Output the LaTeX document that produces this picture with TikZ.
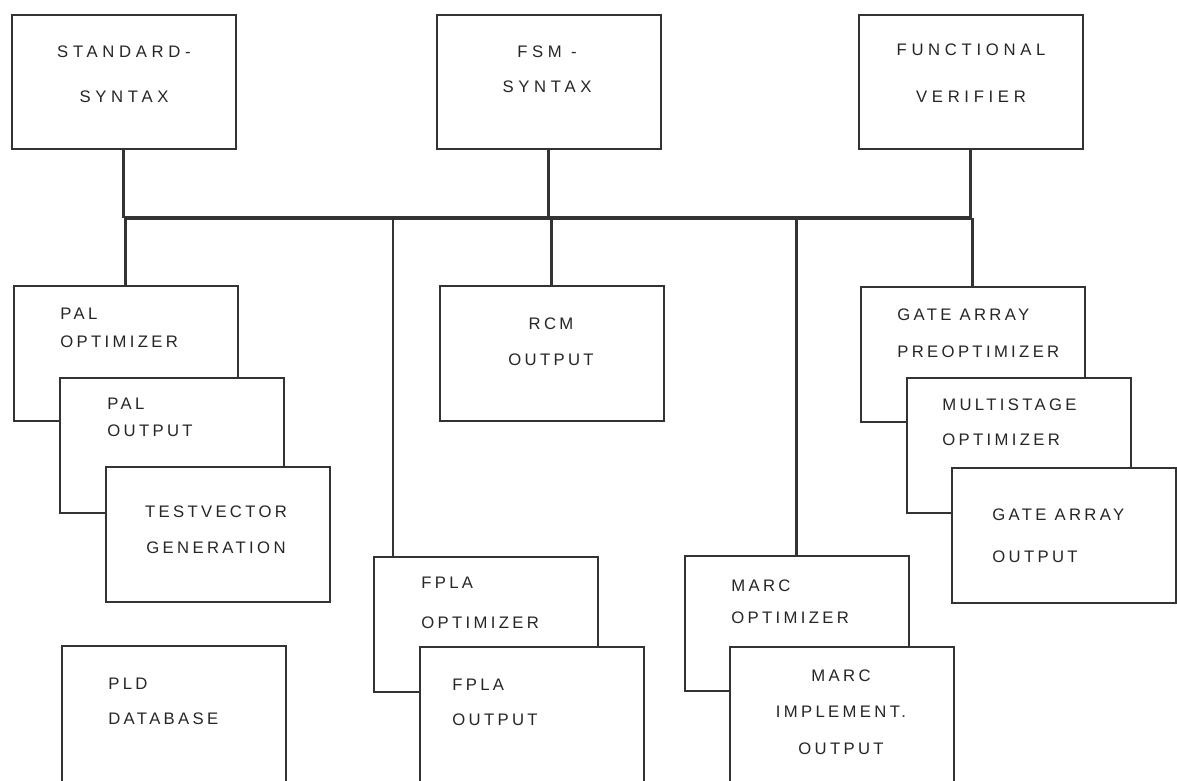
\documentclass[tikz,border=0pt]{standalone}
\usepackage{fontspec}
\setmainfont{Liberation Sans}
\newfontfamily\blkfont[LetterSpace=20]{Liberation Sans}
\newfontfamily\topfont[LetterSpace=28]{Liberation Sans}
\usetikzlibrary{calc}
\tikzset{
  unit/.style = {rectangle, draw=black!80, line width=0.9pt, fill=white, anchor=north west, inner sep=0pt, minimum width=4.48cm, minimum height=2.7cm},
  topunit/.style = {unit, minimum height=2.68cm},
  cutunit/.style = {unit, minimum height=2.9cm},
  lbl/.style = {black!85, inner sep=0pt, font=\blkfont\fontsize{9.5}{#1}\selectfont},
  lbl/.default = 20.5,
  lft/.style = {anchor=west, align=left},
  ctr/.style = {anchor=center, align=center},
  toplbl/.style = {lbl, ctr, font=\topfont\fontsize{9.5}{#1}\selectfont},
  busline/.style = {draw=black!80, line width=2.2pt},
  tapline/.style = {draw=black!80, line width=1.6pt}
}
\begin{document}
\begin{tikzpicture}[x=0.02cm, y=-0.02cm]
    \useasboundingbox (0,0) rectangle (1177,781);
    \clip (0,0) rectangle (1177,781);
    \coordinate (bus) at (0,218);

    \node[topunit] (std) at (11,14) {};
    \node[topunit] (fsm) at (436,14) {};
    \node[topunit] (fun) at (858,14) {};
    \node[toplbl=25.6] (stdtxt) at (124,74.5) {STANDARD-\\SYNTAX};
    \node[toplbl=20] (fsmtxt) at (547,69.5) {FSM -\\SYNTAX};
    \node[toplbl=26.7] (funtxt) at (971,73.5) {FUNCTIONAL\\VERIFIER};

    \node[unit] (palopt) at (13,285) {};
    \node[unit] (palout) at (59,377) {};
    \node[unit] (tvgen) at (105,466) {};
    \node[cutunit] (plddb) at (61,645) {};
    \node[unit] (rcmout) at (439,285) {};
    \node[unit] (fplaopt) at (373,556) {};
    \node[cutunit] (fplaout) at (419,646) {};
    \node[unit] (marcopt) at (684,555) {};
    \node[cutunit] (marcout) at (729,646) {};
    \node[unit] (gapre) at (860,286) {};
    \node[unit] (gamulti) at (906,377) {};
    \node[unit] (gaout) at (951,467) {};

    \node[lbl=16, lft] (paloptxt) at (60,328) {PAL\\OPTIMIZER};
    \node[lbl=15.5, lft] (palouttxt) at (107,417.5) {PAL\\OUTPUT};
    \node[lbl, ctr] (tvgentxt) at (216,530) {TESTVECTOR\\GENERATION};
    \node[lbl=20, lft] (plddbtxt) at (108,701.5) {PLD\\DATABASE};
    \node[lbl, ctr] (rcmouttxt) at (551,342) {RCM\\OUTPUT};
    \node[lbl=22.8, lft] (fplaopttxt) at (421,603) {FPLA\\OPTIMIZER};
    \node[lbl=20, lft] (fplaouttxt) at (452,702.5) {FPLA\\OUTPUT};
    \node[lbl=18.2, lft] (marcopttxt) at (731,602) {MARC\\OPTIMIZER};
    \node[lbl=20.8, ctr] (marcouttxt) at (841,712) {MARC\\IMPLEMENT.\\OUTPUT};
    \node[lbl=21, lft] (gapretxt) at (897,333) {GATE ARRAY\\PREOPTIMIZER};
    \node[lbl=20, lft] (gamultitxt) at (942,422.5) {MULTISTAGE\\OPTIMIZER};
    \node[lbl=24, lft] (gaouttxt) at (992,536) {GATE ARRAY\\OUTPUT};

    \coordinate (fplatap) at ($(fplaopt.north west)+(20,0)$);
    \draw[busline] (std.south |- bus) -- (fun.south |- bus);
    \draw[tapline] (std.south) -- (std.south |- bus);
    \draw[tapline] (fsm.south) -- (fsm.south |- bus);
    \draw[tapline] (fun.south) -- (fun.south |- bus);
    \draw[tapline] (palopt.north |- bus) -- (palopt.north);
    \draw[tapline] (fplatap |- bus) -- (fplatap);
    \draw[tapline] (rcmout.north |- bus) -- (rcmout.north);
    \draw[tapline] (marcopt.north |- bus) -- (marcopt.north);
    \draw[tapline] (gapre.north |- bus) -- (gapre.north);
\end{tikzpicture}
\end{document}
